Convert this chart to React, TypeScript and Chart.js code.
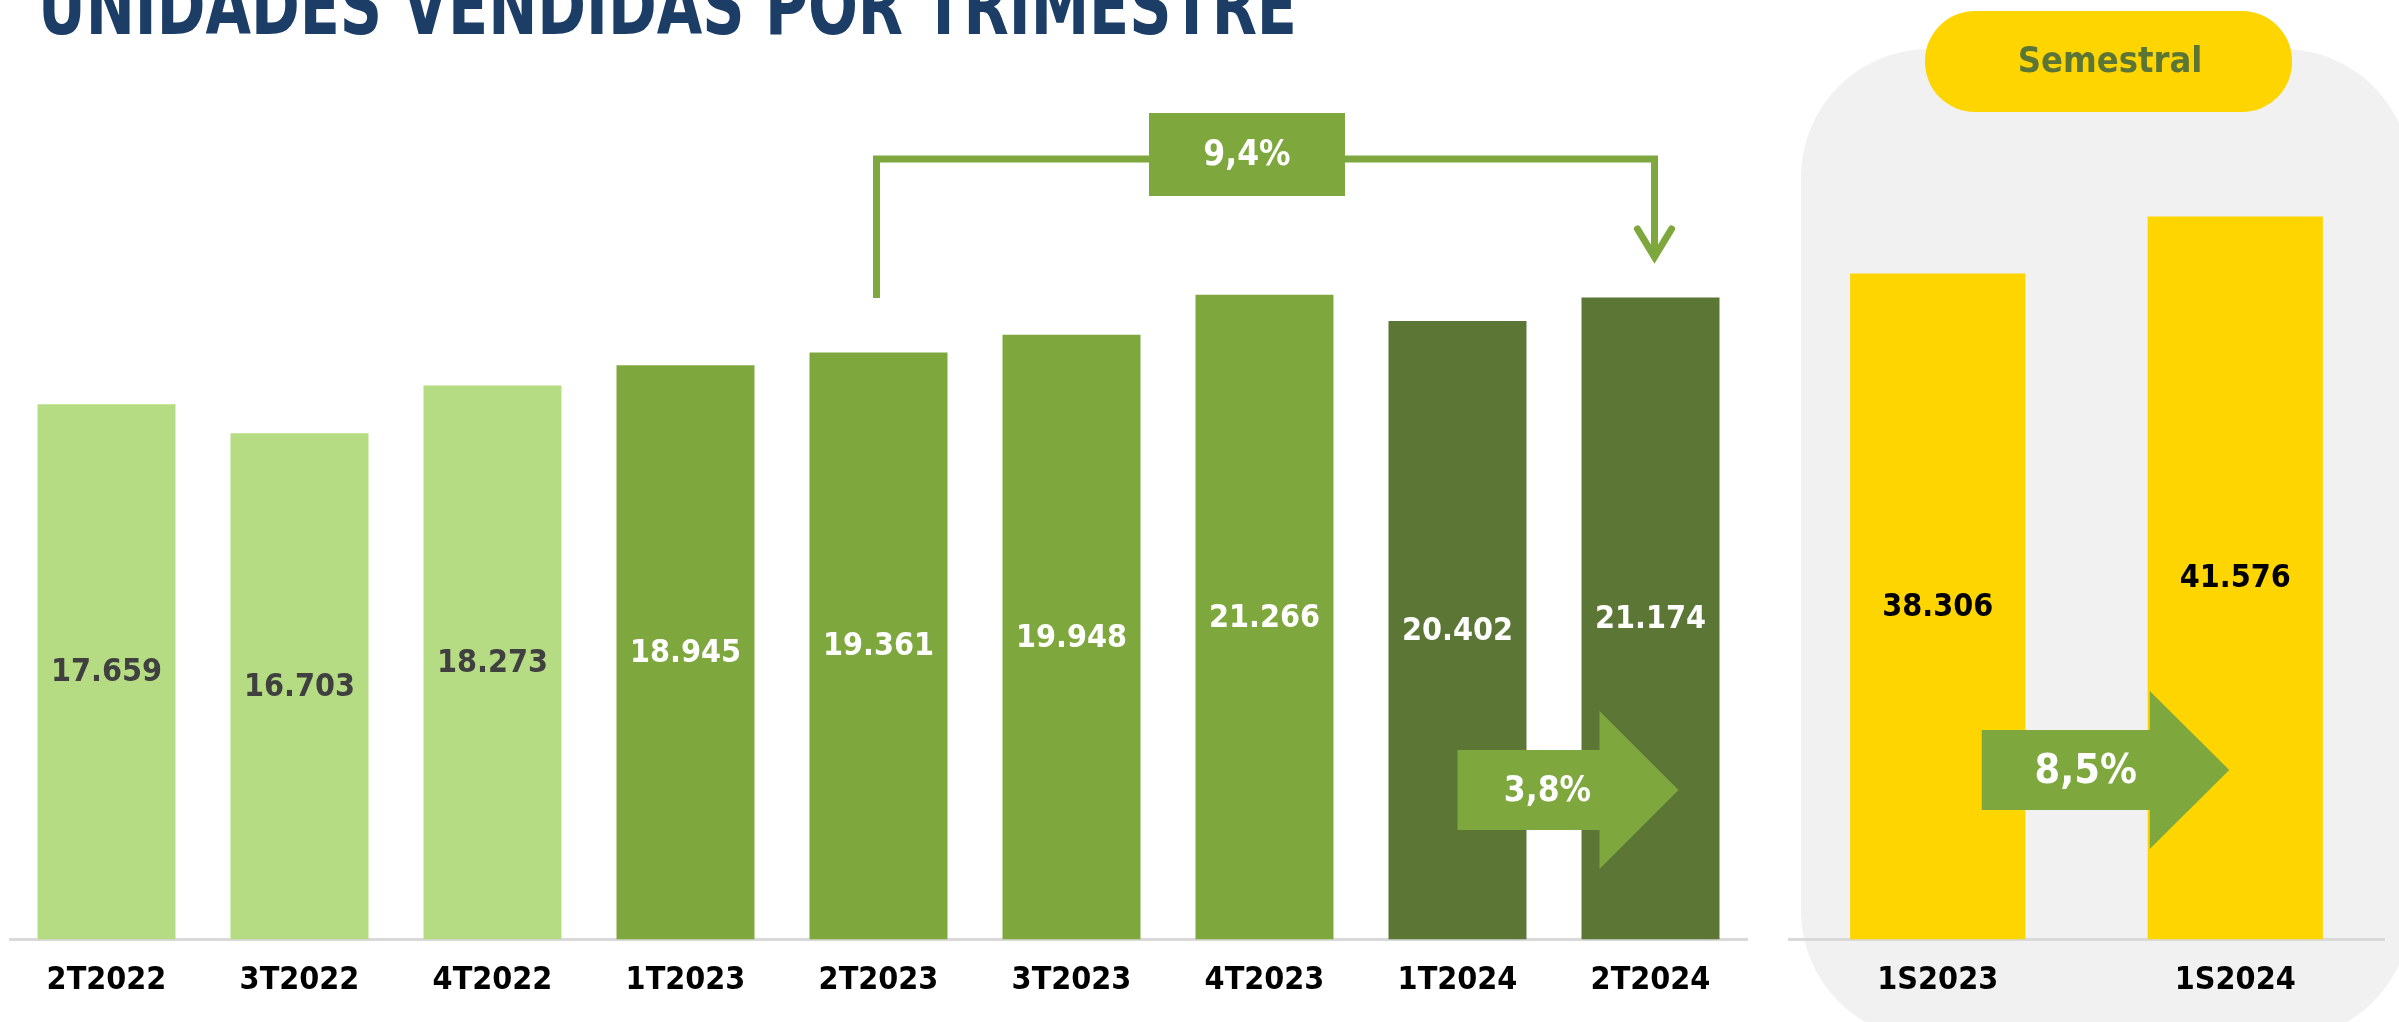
import React, { useEffect, useRef } from 'react';
import { Chart, registerables } from 'chart.js';

Chart.register(...registerables);

// ---- data ----
const quarterLabels = ['2T2022', '3T2022', '4T2022', '1T2023', '2T2023', '3T2023', '4T2023', '1T2024', '2T2024'];
const quarterUnits = [17659, 16703, 18273, 18945, 19361, 19948, 21266, 20402, 21174];
const semesterLabels = ['1S2023', '1S2024'];
const semesterUnits = [38306, 41576];
const quarterGrowth = '3,8%';
const yearGrowth = '9,4%';
const semesterGrowth = '8,5%';
const titleText = 'UNIDADES VENDIDAS POR TRIMESTRE';
const panelTitle = 'Semestral';

// ---- styles ----
const W = 2399;
const H = 1022;
const LIGHT = '#B5DC82';
const MID = '#7EA83D';
const DARK = '#5C7636';
const YELLOW = '#FFD500';
const ARROW = '#7EA83D';
const AXIS = '#D9D9D9';
const FONT = "'DejaVu Sans', Verdana, sans-serif";
const CFONT = "'DejaVu Sans Condensed', 'DejaVu Sans', sans-serif";
const quarterColors = [LIGHT, LIGHT, LIGHT, MID, MID, MID, MID, DARK, DARK];
const quarterLabelColors = ['#404040', '#404040', '#404040', '#FFFFFF', '#FFFFFF', '#FFFFFF', '#FFFFFF', '#FFFFFF', '#FFFFFF'];

const fmt = (v: number) => String(Math.round(v)).replace(/\B(?=(\d{3})+(?!\d))/g, '.');

function roundRect(ctx: CanvasRenderingContext2D, x: number, y: number, w: number, h: number, r: number) {
  ctx.beginPath();
  ctx.moveTo(x + r, y);
  ctx.lineTo(x + w - r, y);
  ctx.arcTo(x + w, y, x + w, y + r, r);
  ctx.lineTo(x + w, y + h - r);
  ctx.arcTo(x + w, y + h, x + w - r, y + h, r);
  ctx.lineTo(x + r, y + h);
  ctx.arcTo(x, y + h, x, y + h - r, r);
  ctx.lineTo(x, y + r);
  ctx.arcTo(x, y, x + r, y, r);
  ctx.closePath();
}

function drawArrow(ctx: CanvasRenderingContext2D, x0: number, xNeck: number, xTip: number, cy: number, halfBody: number, halfHead: number) {
  ctx.beginPath();
  ctx.moveTo(x0, cy - halfBody);
  ctx.lineTo(xNeck, cy - halfBody);
  ctx.lineTo(xNeck, cy - halfHead);
  ctx.lineTo(xTip, cy);
  ctx.lineTo(xNeck, cy + halfHead);
  ctx.lineTo(xNeck, cy + halfBody);
  ctx.lineTo(x0, cy + halfBody);
  ctx.closePath();
  ctx.fill();
}

const leftOverlay = {
  id: 'leftOverlay',
  afterDatasetsDraw(chart: any) {
    const ctx: CanvasRenderingContext2D = chart.ctx;
    const meta = chart.getDatasetMeta(0);
    ctx.save();
    ctx.font = `bold 32px ${CFONT}`;
    ctx.textAlign = 'center';
    ctx.textBaseline = 'middle';
    meta.data.forEach((bar: any, i: number) => {
      const { x, y, base } = bar.getProps(['x', 'y', 'base'], true);
      ctx.fillStyle = quarterLabelColors[i];
      ctx.fillText(fmt(quarterUnits[i]), x, (y + base) / 2 + 1);
    });
    ctx.restore();
  },
  afterDraw(chart: any) {
    const ctx: CanvasRenderingContext2D = chart.ctx;
    const xs = chart.scales.x;
    ctx.save();
    // title (cut off at top)
    ctx.fillStyle = '#1B3D66';
    ctx.font = `bold 80px ${CFONT}`;
    ctx.textAlign = 'left';
    ctx.textBaseline = 'alphabetic';
    ctx.fillText(titleText, 38, 34, 1259);

    // bracket 2T2023 -> 2T2024
    const xL = xs.getPixelForValue(4) - 2;
    const xR = xs.getPixelForValue(8) + 4;
    ctx.strokeStyle = ARROW;
    ctx.lineWidth = 7;
    ctx.lineJoin = 'miter';
    ctx.lineCap = 'butt';
    ctx.beginPath();
    ctx.moveTo(xL, 298);
    ctx.lineTo(xL, 159);
    ctx.lineTo(xR, 159);
    ctx.lineTo(xR, 254);
    ctx.stroke();
    ctx.lineCap = 'round';
    ctx.beginPath();
    ctx.moveTo(xR - 17, 229);
    ctx.lineTo(xR, 257);
    ctx.lineTo(xR + 17, 229);
    ctx.stroke();
    ctx.fillStyle = ARROW;
    ctx.fillRect(1149, 113, 196, 83);
    ctx.fillStyle = '#FFFFFF';
    ctx.font = `bold 35px ${CFONT}`;
    ctx.textAlign = 'center';
    ctx.textBaseline = 'middle';
    ctx.fillText(yearGrowth, 1247, 156);

    // 3,8% arrow
    const x7 = xs.getPixelForValue(7);
    const x8 = xs.getPixelForValue(8);
    ctx.fillStyle = ARROW;
    drawArrow(ctx, x7, x7 + 142, x8 + 28, 790, 40, 79);
    ctx.fillStyle = '#FFFFFF';
    ctx.fillText(quarterGrowth, x7 + 90, 792);
    ctx.restore();
  },
};

const rightOverlay = {
  id: 'rightOverlay',
  beforeDraw(chart: any) {
    const ctx: CanvasRenderingContext2D = chart.ctx;
    ctx.save();
    ctx.fillStyle = '#F1F1F1';
    roundRect(ctx, 1801, 49, 610, 990, 128);
    ctx.fill();
    ctx.fillStyle = YELLOW;
    roundRect(ctx, 1925, 11, 367, 101, 50);
    ctx.fill();
    ctx.fillStyle = '#5B7536';
    ctx.font = `bold 36px ${CFONT}`;
    ctx.textAlign = 'center';
    ctx.textBaseline = 'middle';
    ctx.fillText(panelTitle, 2110, 63);
    ctx.restore();
  },
  afterDatasetsDraw(chart: any) {
    const ctx: CanvasRenderingContext2D = chart.ctx;
    const meta = chart.getDatasetMeta(0);
    ctx.save();
    ctx.font = `bold 32px ${CFONT}`;
    ctx.textAlign = 'center';
    ctx.textBaseline = 'middle';
    ctx.fillStyle = '#000000';
    meta.data.forEach((bar: any, i: number) => {
      const { x, y, base } = bar.getProps(['x', 'y', 'base'], true);
      ctx.fillText(fmt(semesterUnits[i]), x, (y + base) / 2 + 1);
    });
    ctx.restore();
  },
  afterDraw(chart: any) {
    const ctx: CanvasRenderingContext2D = chart.ctx;
    const xs = chart.scales.x;
    const x0 = xs.getPixelForValue(0);
    const x1 = xs.getPixelForValue(1);
    ctx.save();
    ctx.fillStyle = ARROW;
    drawArrow(ctx, x0 + 44, x0 + 212, x1 - 6, 770, 40, 79);
    ctx.fillStyle = '#FFFFFF';
    ctx.font = `bold 41px ${CFONT}`;
    ctx.textAlign = 'center';
    ctx.textBaseline = 'middle';
    ctx.fillText(semesterGrowth, x0 + 148, 772);
    ctx.restore();
  },
};

function xAxis(family: string, size: number) {
  return {
    type: 'category' as const,
    offset: true,
    grid: { display: false, drawTicks: false },
    border: { display: true, color: AXIS, width: 3 },
    ticks: { color: '#000000', padding: 22, font: { family, size, weight: 'bold' as const } },
  };
}

export default function App() {
  const leftRef = useRef<HTMLCanvasElement | null>(null);
  const rightRef = useRef<HTMLCanvasElement | null>(null);

  useEffect(() => {
    const left = new Chart(leftRef.current as HTMLCanvasElement, {
      type: 'bar',
      data: {
        labels: quarterLabels,
        datasets: [
          {
            data: quarterUnits,
            backgroundColor: quarterColors,
            borderWidth: 0,
            categoryPercentage: 1,
            barPercentage: 0.715,
          },
        ],
      },
      options: {
        responsive: false,
        animation: false,
        devicePixelRatio: 1,
        layout: { padding: { left: 10, right: 652, top: 30, bottom: 0 } },
        plugins: { legend: { display: false }, tooltip: { enabled: false }, title: { display: false } },
        scales: {
          x: xAxis(CFONT, 32),
          y: { display: false, min: 0, max: 30000 },
        },
      },
      plugins: [leftOverlay],
    });
    const right = new Chart(rightRef.current as HTMLCanvasElement, {
      type: 'bar',
      data: {
        labels: semesterLabels,
        datasets: [
          {
            data: semesterUnits,
            backgroundColor: YELLOW,
            borderWidth: 0,
            categoryPercentage: 1,
            barPercentage: 0.589,
          },
        ],
      },
      options: {
        responsive: false,
        animation: false,
        devicePixelRatio: 1,
        layout: { padding: { left: 1789, right: 15, top: 30, bottom: 0 } },
        plugins: { legend: { display: false }, tooltip: { enabled: false }, title: { display: false } },
        scales: {
          x: xAxis(CFONT, 32),
          y: { display: false, min: 0, max: 52300 },
        },
      },
      plugins: [rightOverlay],
    });
    return () => {
      left.destroy();
      right.destroy();
    };
  }, []);

  return (
    <div style={{ position: 'fixed', left: 0, top: 0, width: W, height: H, overflow: 'hidden', background: '#FFFFFF' }}>
      <canvas ref={rightRef} width={W} height={H} style={{ position: 'absolute', left: 0, top: 0, width: W, height: H }} />
      <canvas ref={leftRef} width={W} height={H} style={{ position: 'absolute', left: 0, top: 0, width: W, height: H }} />
    </div>
  );
}
